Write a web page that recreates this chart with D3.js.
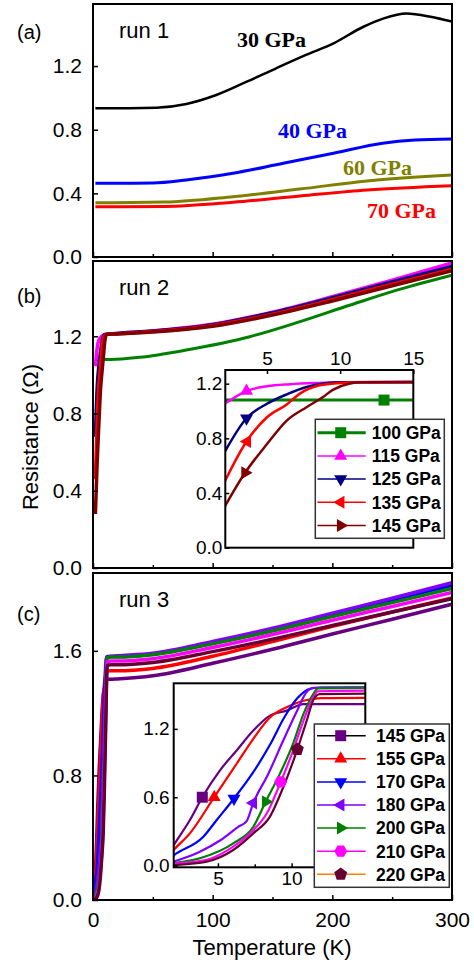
<!DOCTYPE html>
<html>
<head>
<meta charset="utf-8">
<script src="https://cdn.jsdelivr.net/npm/d3@7"></script>
<style>
  body { margin: 0; background: #fff; }
</style>
</head>
<body>
<div id="chart"></div>
<script>
// ---- data (T in K, R in ohm) ----
var run1Labels = ["30 GPa", "40 GPa", "60 GPa", "70 GPa"];
var run1_30 = [[2,0.935],[30,0.935],[53,0.938],[78,0.962],[103,1.018],[128,1.10],[153,1.186],[178,1.27],[201,1.343],[226,1.447],[243,1.50],[262,1.53],[282,1.51],[300,1.479]];
var run1_40 = [[2,0.463],[50,0.465],[78,0.484],[117,0.526],[159,0.589],[201,0.652],[242,0.715],[269,0.735],[300,0.742]];
var run1_60 = [[2,0.341],[60,0.345],[117,0.379],[173,0.427],[229,0.478],[300,0.515]];
var run1_70 = [[2,0.316],[60,0.318],[117,0.344],[173,0.383],[229,0.421],[300,0.448]];

var run2Labels = ["100 GPa", "115 GPa", "125 GPa", "135 GPa", "145 GPa"];
var run2_100 = [[2,1.08],[15,1.08],[39,1.091],[78,1.129],[131,1.198],[173,1.276],[215,1.362],[256,1.443],[300,1.517]];
var run2_115 = [[2,1.045],[3.6,1.146],[5,1.181],[6.6,1.196],[8.4,1.205],[10,1.21],[20,1.215],[50,1.228],[100,1.262],[150,1.325],[200,1.405],[250,1.49],[300,1.58]];
var run2_125 = [[2,0.68],[3.6,0.947],[5,1.053],[6.35,1.122],[7.7,1.176],[9.1,1.205],[10.2,1.21],[20,1.215],[50,1.227],[100,1.26],[150,1.322],[200,1.4],[250,1.482],[300,1.562]];
var run2_135 = [[2,0.46],[3.6,0.777],[5,0.954],[6.35,1.048],[7.25,1.127],[8.6,1.188],[10,1.205],[11,1.21],[20,1.213],[50,1.225],[100,1.256],[150,1.315],[200,1.39],[250,1.47],[300,1.548]];
var run2_145 = [[2,0.28],[3.5,0.548],[5,0.758],[6.35,0.93],[7.7,1.028],[8.8,1.10],[9.5,1.155],[10.6,1.2],[11.5,1.21],[20,1.212],[50,1.222],[100,1.252],[150,1.31],[200,1.383],[250,1.462],[300,1.54]];
var run2MarkT = [13, 3.6, 3.6, 3.65, 3.5];
var run2MarkR = [1.08, 1.146, 0.947, 0.777, 0.548];

var run3Labels = ["145 GPa", "155 GPa", "170 GPa", "180 GPa", "200 GPa", "210 GPa", "220 GPa"];
var run3_145 = [[1.2,0.01],[2,0.18],[3.1,0.4],[3.94,0.6],[5.14,0.836],[6.27,1.01],[7.4,1.185],[8.53,1.316],[9.67,1.36],[10.8,1.418],[15,1.418],[20,1.42],[50,1.44],[100,1.52],[150,1.61],[200,1.708],[250,1.803],[300,1.9]];
var run3_155 = [[1.2,0.01],[2,0.137],[3.1,0.283],[4.75,0.6],[6.27,0.894],[7.4,1.113],[8.53,1.30],[9.67,1.39],[10.8,1.447],[12,1.47],[15,1.472],[20,1.472],[50,1.487],[100,1.565],[150,1.66],[200,1.757],[250,1.85],[300,1.94]];
var run3_170 = [[1.2,0.005],[2,0.09],[4.01,0.253],[4.92,0.4],[6.09,0.589],[7.4,0.82],[8.53,1.06],[9.5,1.3],[10.4,1.47],[11.2,1.55],[12,1.563],[15,1.563],[20,1.563],[50,1.58],[100,1.652],[150,1.737],[200,1.832],[250,1.926],[300,2.022]];
var run3_180 = [[1.2,0],[2,0.035],[3.78,0.122],[5.14,0.22],[6.38,0.34],[6.95,0.39],[7.4,0.55],[8.4,0.8],[9.44,1.1],[10.34,1.35],[11,1.52],[11.5,1.56],[15,1.565],[20,1.568],[50,1.585],[100,1.66],[150,1.745],[200,1.842],[250,1.938],[300,2.038]];
var run3_200 = [[1.2,0],[2,0.02],[3.78,0.064],[6.04,0.195],[7.4,0.34],[8.24,0.56],[9.21,0.807],[10.1,1.07],[10.8,1.33],[11.47,1.506],[11.8,1.555],[15,1.56],[20,1.56],[50,1.575],[100,1.645],[150,1.727],[200,1.82],[250,1.91],[300,2.0]];
var run3_210 = [[1.2,0],[2,0.015],[4.23,0.05],[6.04,0.166],[7.4,0.31],[8.31,0.457],[9.26,0.734],[10.1,1.01],[10.8,1.27],[11.47,1.476],[11.8,1.53],[15,1.535],[20,1.535],[50,1.55],[100,1.622],[150,1.705],[200,1.797],[250,1.885],[300,1.975]];
var run3_220 = [[1.2,0],[2,0.005],[4.23,0.035],[6.04,0.137],[7.4,0.283],[8.53,0.43],[9.44,0.69],[10.39,1.02],[11.02,1.27],[11.5,1.46],[11.9,1.505],[15,1.51],[20,1.51],[50,1.525],[100,1.595],[150,1.675],[200,1.763],[250,1.85],[300,1.935]];
var run3MarkT = [3.94, 4.75, 6.09, 7.4, 8.24, 9.26, 10.39];
var run3MarkR = [0.6, 0.6, 0.589, 0.55, 0.56, 0.734, 1.02];

var xTicks = [0, 100, 200, 300];
var xMinorTicks = [50, 150, 250];

// ---- layout ----
var svgWidth = 474, svgHeight = 962;
var left = 93, right = 452;
var sans = "'Liberation Sans', Arial, sans-serif";
var serif = "'Liberation Serif', 'Times New Roman', serif";

var svg = d3.select("#chart").append("svg")
  .attr("width", svgWidth).attr("height", svgHeight)
  .style("font-family", sans);
svg.append("rect").attr("width", svgWidth).attr("height", svgHeight).attr("fill", "#fff");

var x = d3.scaleLinear().domain([0, 300]).range([left, right]);

var panels = [
  {id: "a", top: 4, bottom: 257, max: 1.59, ticks: [0, 0.4, 0.8, 1.2], run: "run 1", label: "(a)", labelY: 39},
  {id: "b", top: 261, bottom: 568, max: 1.59, ticks: [0, 0.4, 0.8, 1.2], run: "run 2", label: "(b)", labelY: 303},
  {id: "c", top: 573, bottom: 900, max: 2.1, ticks: [0, 0.8, 1.6], run: "run 3", label: "(c)", labelY: 621}
];

var line = function(xs, ys) {
  return d3.line().x(d => xs(d[0])).y(d => ys(d[1])).curve(d3.curveMonotoneX);
};

function styleAxis(g, size) {
  g.select(".domain").remove();
  g.selectAll("text").attr("font-size", size + "px").attr("fill", "#000")
    .style("font-family", sans);
  g.selectAll("line").attr("stroke", "#000").attr("stroke-width", 1.5);
}

panels.forEach(function(p) {
  p.y = d3.scaleLinear().domain([0, p.max]).range([p.bottom, p.top]);

  svg.append("clipPath").attr("id", "clip-" + p.id)
    .append("rect").attr("x", left).attr("y", p.top)
    .attr("width", right - left).attr("height", p.bottom - p.top);

  p.g = svg.append("g").attr("clip-path", "url(#clip-" + p.id + ")");

  var ya = svg.append("g").attr("transform", `translate(${left},0)`)
    .call(d3.axisLeft(p.y).tickValues(p.ticks).tickFormat(d3.format(".1f"))
      .tickSizeInner(-5).tickSizeOuter(0).tickPadding(11));
  styleAxis(ya, 21);

  var xa = svg.append("g").attr("transform", `translate(0,${p.bottom})`)
    .call(d3.axisBottom(x).tickValues(xTicks).tickSizeInner(-5).tickSizeOuter(0).tickPadding(12));
  styleAxis(xa, 21);
  if (p.id != "c") xa.selectAll("text").remove();

  var xm = svg.append("g").attr("transform", `translate(0,${p.bottom})`)
    .call(d3.axisBottom(x).tickValues(xMinorTicks).tickSizeInner(-3).tickSizeOuter(0).tickFormat(""));
  styleAxis(xm, 21);

  svg.append("text").attr("x", 17).attr("y", p.labelY)
    .attr("font-size", "20px").text(p.label);
  svg.append("text").attr("x", 119).attr("y", p.top + 34)
    .attr("font-size", "22px").text(p.run);
});

// ---- panel (a) ----
var pa = panels[0];
var run1Series = [run1_30, run1_40, run1_60, run1_70];
var run1Colors = ["#000000", "#0000ff", "#808000", "#ff0000"];
var run1Widths = [2.5, 3, 3, 3];
var run1LabelPos = [[237, 47], [278, 138], [343, 175], [367, 218]];

run1Series.forEach(function(s, i) {
  pa.g.append("path").datum(s)
    .attr("d", line(x, pa.y))
    .attr("fill", "none")
    .attr("stroke", run1Colors[i])
    .attr("stroke-width", run1Widths[i]);
  svg.append("text")
    .attr("x", run1LabelPos[i][0]).attr("y", run1LabelPos[i][1])
    .style("font-family", serif)
    .attr("font-weight", "bold").attr("font-size", "22px")
    .attr("fill", run1Colors[i])
    .text(run1Labels[i]);
});

// ---- markers ----
function polygon(n, r, rot) {
  var pts = d3.range(n).map(function(k) {
    var a = rot + k * 2 * Math.PI / n;
    return [r * Math.cos(a), r * Math.sin(a)];
  });
  return "M" + pts.join("L") + "Z";
}
var markerPaths = {
  square: "M-5.5,-5.5H5.5V5.5H-5.5Z",
  up: polygon(3, 7.5, -Math.PI / 2),
  down: polygon(3, 7.5, Math.PI / 2),
  left: polygon(3, 7.5, Math.PI),
  right: polygon(3, 7.5, 0),
  hex: polygon(6, 6.5, 0),
  pent: polygon(5, 6.8, -Math.PI / 2)
};

// ---- panel (b) ----
var pb = panels[1];
var run2Series = [run2_100, run2_115, run2_125, run2_135, run2_145];
var run2Colors = ["#008000", "#ff00ff", "#000080", "#ff0000", "#800000"];
var run2Shapes = ["square", "up", "down", "left", "right"];

run2Series.forEach(function(s, i) {
  pb.g.append("path").datum(s)
    .attr("d", line(x, pb.y))
    .attr("fill", "none")
    .attr("stroke", run2Colors[i])
    .attr("stroke-width", i == 0 ? 3 : 3.5);
});

// inset (b)
var ib = {l: 225.3, r: 413.3, t: 370, b: 547.7};
var ibx = d3.scaleLinear().domain([2.15, 15]).range([ib.l, ib.r]);
var iby = d3.scaleLinear().domain([0, 1.3]).range([ib.b, ib.t]);
svg.append("rect").attr("x", ib.l).attr("y", ib.t)
  .attr("width", ib.r - ib.l).attr("height", ib.b - ib.t).attr("fill", "#fff");
svg.append("clipPath").attr("id", "clip-ib")
  .append("rect").attr("x", ib.l).attr("y", ib.t)
  .attr("width", ib.r - ib.l).attr("height", ib.b - ib.t);
var ibg = svg.append("g").attr("clip-path", "url(#clip-ib)");
run2Series.forEach(function(s, i) {
  ibg.append("path").datum(s.filter(d => d[0] <= 20))
    .attr("d", line(ibx, iby))
    .attr("fill", "none")
    .attr("stroke", run2Colors[i])
    .attr("stroke-width", i == 0 ? 3 : 2.5);
});
run2Series.forEach(function(s, i) {
  svg.append("path").attr("d", markerPaths[run2Shapes[i]])
    .attr("transform", `translate(${ibx(run2MarkT[i])},${iby(run2MarkR[i])})`)
    .attr("fill", run2Colors[i]);
});
var iba = svg.append("g").attr("transform", `translate(${ib.l},0)`)
  .call(d3.axisLeft(iby).tickValues([0, 0.4, 0.8, 1.2]).tickFormat(d3.format(".1f"))
    .tickSizeInner(-4).tickSizeOuter(0).tickPadding(3));
styleAxis(iba, 19);
var ibt = svg.append("g").attr("transform", `translate(0,${ib.t})`)
  .call(d3.axisTop(ibx).tickValues([5, 10, 15]).tickSizeInner(-4).tickSizeOuter(0).tickPadding(5));
styleAxis(ibt, 19);
svg.append("rect").attr("x", ib.l).attr("y", ib.t)
  .attr("width", ib.r - ib.l).attr("height", ib.b - ib.t)
  .attr("fill", "none").attr("stroke", "#000").attr("stroke-width", 2);

// legend (b)
svg.append("rect").attr("x", 315.3).attr("y", 419.3).attr("width", 129).attr("height", 119)
  .attr("fill", "#fff").attr("stroke", "#333").attr("stroke-width", 1.5);
run2Labels.forEach(function(lab, i) {
  var yy = 432.7 + i * 23.2;
  svg.append("line").attr("x1", 317.5).attr("x2", 365.7).attr("y1", yy).attr("y2", yy)
    .attr("stroke", run2Colors[i]).attr("stroke-width", i == 0 ? 3 : 1.5);
  svg.append("path").attr("d", markerPaths[run2Shapes[i]])
    .attr("transform", `translate(340.7,${yy})`).attr("fill", run2Colors[i]);
  svg.append("text").attr("x", 371.7).attr("y", yy).attr("dy", "0.36em")
    .attr("font-size", "17.5px").attr("font-weight", "bold").text(lab);
});

// ---- panel (c) ----
var pc = panels[2];
var run3Series = [run3_145, run3_155, run3_170, run3_180, run3_200, run3_210, run3_220];
var run3Colors = ["#660080", "#ff0000", "#0000ff", "#8000ff", "#008000", "#ff00ff", "#660033"];
var run3LegendLine = ["#000000", "#ff0000", "#0000ff", "#8000ff", "#008000", "#ff00ff", "#ff8000"];
var run3Shapes = ["square", "up", "down", "left", "right", "hex", "pent"];

run3Series.forEach(function(s, i) {
  pc.g.append("path").datum(s)
    .attr("d", line(x, pc.y))
    .attr("fill", "none")
    .attr("stroke", run3Colors[i])
    .attr("stroke-width", 3.5);
});

// inset (c)
var ic = {l: 173.7, r: 365.3, t: 683.3, b: 867.3};
var icx = d3.scaleLinear().domain([2, 15]).range([ic.l, ic.r]);
var icy = d3.scaleLinear().domain([-0.015, 1.6]).range([ic.b, ic.t]);
svg.append("rect").attr("x", ic.l).attr("y", ic.t)
  .attr("width", ic.r - ic.l).attr("height", ic.b - ic.t).attr("fill", "#fff");
svg.append("clipPath").attr("id", "clip-ic")
  .append("rect").attr("x", ic.l).attr("y", ic.t)
  .attr("width", ic.r - ic.l).attr("height", ic.b - ic.t);
var icg = svg.append("g").attr("clip-path", "url(#clip-ic)");
run3Series.forEach(function(s, i) {
  icg.append("path").datum(s.filter(d => d[0] <= 20))
    .attr("d", line(icx, icy))
    .attr("fill", "none")
    .attr("stroke", run3Colors[i])
    .attr("stroke-width", 2.2);
});
run3Series.forEach(function(s, i) {
  svg.append("path").attr("d", markerPaths[run3Shapes[i]])
    .attr("transform", `translate(${icx(run3MarkT[i])},${icy(run3MarkR[i])})`)
    .attr("fill", run3Colors[i]);
});
var ica = svg.append("g").attr("transform", `translate(${ic.l},0)`)
  .call(d3.axisLeft(icy).tickValues([0, 0.6, 1.2]).tickFormat(d3.format(".1f"))
    .tickSizeInner(-4).tickSizeOuter(0).tickPadding(4));
styleAxis(ica, 19);
var icb = svg.append("g").attr("transform", `translate(0,${ic.b})`)
  .call(d3.axisBottom(icx).tickValues([5, 10]).tickSizeInner(-4).tickSizeOuter(0).tickPadding(4));
styleAxis(icb, 19);
var icm = svg.append("g").attr("transform", `translate(0,${ic.b})`)
  .call(d3.axisBottom(icx).tickValues([7.5, 12.5]).tickSizeInner(-3).tickSizeOuter(0).tickFormat(""));
styleAxis(icm, 19);
svg.append("rect").attr("x", ic.l).attr("y", ic.t)
  .attr("width", ic.r - ic.l).attr("height", ic.b - ic.t)
  .attr("fill", "none").attr("stroke", "#000").attr("stroke-width", 2);

// legend (c)
svg.append("rect").attr("x", 314.3).attr("y", 724).attr("width", 135).attr("height", 163.3)
  .attr("fill", "#fff").attr("stroke", "#333").attr("stroke-width", 1.5);
run3Labels.forEach(function(lab, i) {
  var yy = 735.7 + i * 23.1;
  svg.append("line").attr("x1", 317).attr("x2", 365.7).attr("y1", yy).attr("y2", yy)
    .attr("stroke", run3LegendLine[i]).attr("stroke-width", 1.5);
  svg.append("path").attr("d", markerPaths[run3Shapes[i]])
    .attr("transform", `translate(340.7,${yy})`).attr("fill", run3Colors[i]);
  svg.append("text").attr("x", 376).attr("y", yy).attr("dy", "0.36em")
    .attr("font-size", "17.5px").attr("font-weight", "bold").text(lab);
});

// ---- frames and titles ----
panels.forEach(function(p) {
  svg.append("rect").attr("x", left).attr("y", p.top)
    .attr("width", right - left).attr("height", p.bottom - p.top)
    .attr("fill", "none").attr("stroke", "#000").attr("stroke-width", 2);
});

svg.append("text")
  .attr("transform", "translate(38,437) rotate(-90)")
  .attr("text-anchor", "middle")
  .attr("font-size", "22px")
  .text("Resistance (Ω)");

svg.append("text")
  .attr("x", 272).attr("y", 955)
  .attr("text-anchor", "middle")
  .attr("font-size", "22px")
  .text("Temperature (K)");
</script>
</body>
</html>
